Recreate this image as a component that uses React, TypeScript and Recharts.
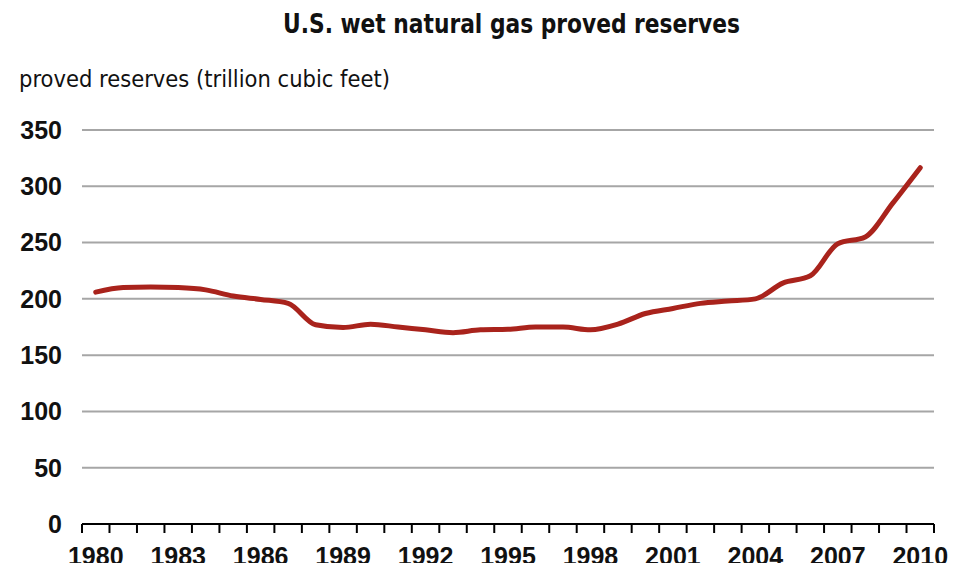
import React from 'react';
import { LineChart, Line, XAxis, YAxis, CartesianGrid } from 'recharts';

const years = [1980, 1981, 1982, 1983, 1984, 1985, 1986, 1987, 1988, 1989, 1990, 1991, 1992, 1993, 1994, 1995, 1996, 1997, 1998, 1999, 2000, 2001, 2002, 2003, 2004, 2005, 2006, 2007, 2008, 2009, 2010];
const reserves = [206, 210, 210.5, 210, 208, 202.5, 199.5, 196, 177, 174.5, 177.5, 175, 172.5, 170, 172.5, 173, 175, 175, 172.5, 177.5, 187, 191.5, 196, 198, 200, 214, 220.5, 249, 255, 285, 316.5];
const xLabels = [1980, 1983, 1986, 1989, 1992, 1995, 1998, 2001, 2004, 2007, 2010];
const yTicks = [0, 50, 100, 150, 200, 250, 300, 350];
const title = 'U.S. wet natural gas proved reserves';
const yTitle = 'proved reserves (trillion cubic feet)';

const data = years.map((year, i) => ({ year, value: reserves[i] }));
const boundaries = [...years.map((y) => y - 0.5), years[years.length - 1] + 0.5];
const xTicks = [...boundaries, ...xLabels].sort((a, b) => a - b);

const tickFont = "'Liberation Sans', Arial, sans-serif";

const XTick = (props: any) => {
  const { x, y, payload } = props;
  const v = payload.value;
  if (!Number.isInteger(v)) {
    return <line x1={x} x2={x} y1={y} y2={y + 9} stroke="#000" strokeWidth={2} />;
  }
  if (xLabels.includes(v)) {
    return (
      <text x={x} y={y + 41} textAnchor="middle" fontFamily={tickFont} fontSize={25} fontWeight={700} fill="#111">
        {v}
      </text>
    );
  }
  return null;
};

export default function App() {
  return (
    <div style={{ position: 'relative', width: 965, height: 571, margin: -8, background: '#fff' }}>
      <LineChart width={965} height={571} data={data} margin={{ top: 130, right: 31, bottom: 7, left: 10 }}>
        <CartesianGrid horizontal vertical={false} stroke="#A6A6A6" strokeWidth={2} />
        <XAxis
          dataKey="year"
          type="number"
          domain={[1979.5, 2010.5]}
          ticks={xTicks}
          interval={0}
          allowDecimals
          tick={<XTick />}
          tickLine={false}
          tickSize={0}
          tickMargin={0}
          height={40}
          axisLine={{ stroke: '#000', strokeWidth: 2 }}
        />
        <YAxis
          domain={[0, 350]}
          ticks={yTicks}
          interval={0}
          width={72}
          axisLine={false}
          tickLine={false}
          tickSize={0}
          tickMargin={20}
          tick={{ fontFamily: tickFont, fontSize: 25, fontWeight: 700, fill: '#111' }}
        />
        <Line
          type="monotone"
          dataKey="value"
          stroke="#A9231C"
          strokeWidth={5}
          dot={false}
          strokeLinejoin="round"
          strokeLinecap="round"
          isAnimationActive={false}
        />
      </LineChart>
      <svg width={965} height={571} style={{ position: 'absolute', left: 0, top: 0, pointerEvents: 'none' }}>
        <text
          x={283}
          y={33}
          fontFamily="'DejaVu Sans Condensed', 'Liberation Sans Narrow', sans-serif"
          fontSize={27}
          fontWeight={700}
          fill="#111"
          textLength={457}
          lengthAdjust="spacingAndGlyphs"
        >
          {title}
        </text>
        <text
          x={19}
          y={87}
          fontFamily="'DejaVu Sans Condensed', 'Liberation Sans Narrow', sans-serif"
          fontSize={23}
          fill="#111"
          textLength={371}
          lengthAdjust="spacingAndGlyphs"
        >
          {yTitle}
        </text>
      </svg>
    </div>
  );
}
